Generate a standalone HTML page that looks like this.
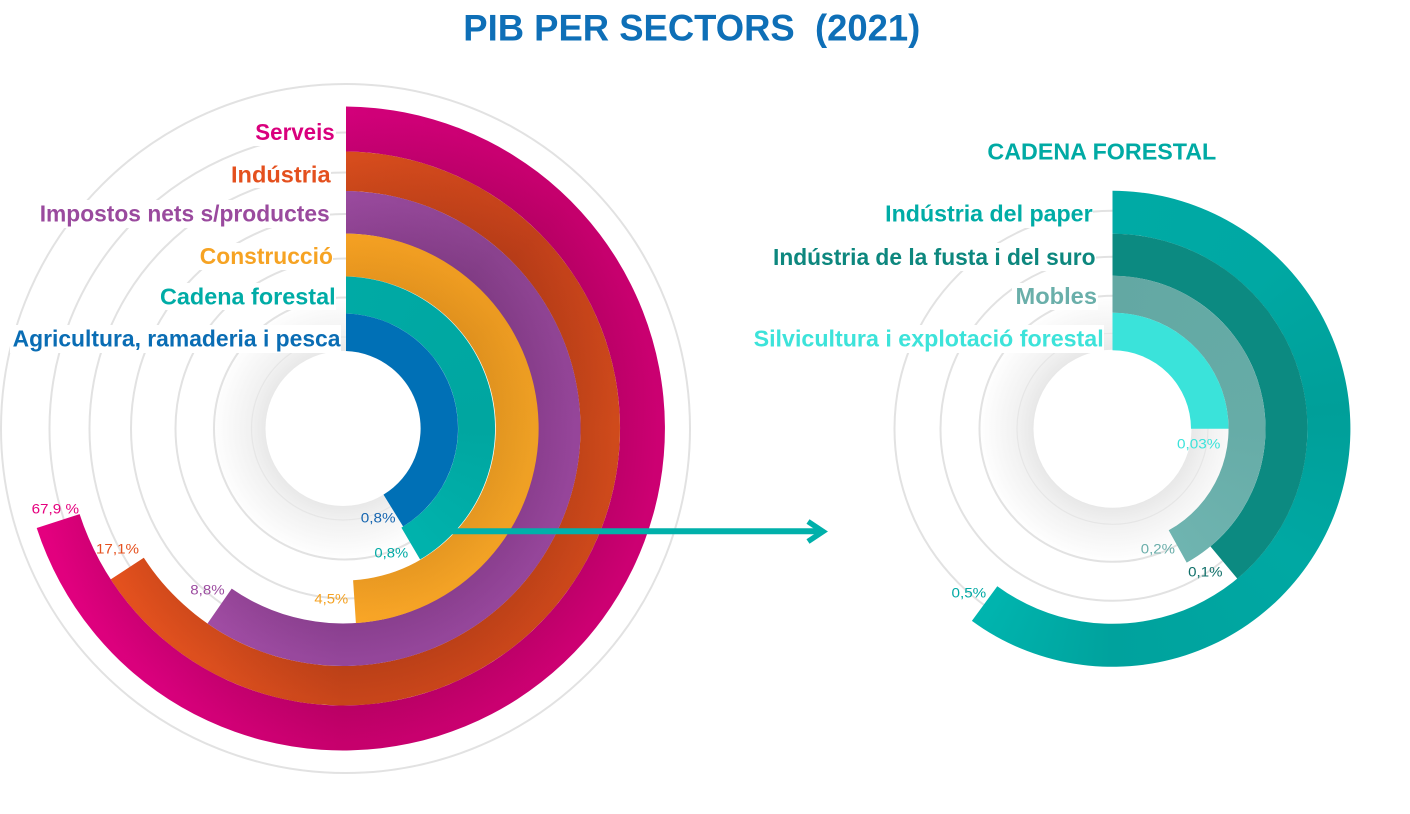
<!DOCTYPE html>
<html>
<head>
<meta charset="utf-8">
<style>
  html,body{margin:0;padding:0;background:#fff;}
  body{width:1410px;height:814px;overflow:hidden;position:relative;font-family:"Liberation Sans",sans-serif;}
  .layer{position:absolute;left:0;top:0;width:1410px;height:814px;}
  .band{position:absolute;left:0;top:0;width:1410px;height:814px;}
</style>
</head>
<body>

<!-- background: grid circles and hole shadows -->
<svg class="layer" width="1410" height="814" viewBox="0 0 1410 814">
  <defs>
    <radialGradient id="shL" gradientUnits="userSpaceOnUse" cx="343" cy="428.5" r="132">
      <stop offset="0.58" stop-color="#e8e8e8"/>
      <stop offset="0.70" stop-color="#f1f1f1"/>
      <stop offset="1" stop-color="#ffffff"/>
    </radialGradient>
    <radialGradient id="shR" gradientUnits="userSpaceOnUse" cx="1112.5" cy="428.8" r="134">
      <stop offset="0.59" stop-color="#e8e8e8"/>
      <stop offset="0.71" stop-color="#f1f1f1"/>
      <stop offset="1" stop-color="#ffffff"/>
    </radialGradient>
  </defs>
  <!-- left -->
  <circle cx="343" cy="428.5" r="132" fill="url(#shL)"/>
  <g fill="none" stroke="#e2e2e2" stroke-width="2">
    <circle cx="345.5" cy="428.5" r="344.5"/>
    <circle cx="345.5" cy="428.5" r="296"/>
    <circle cx="345.5" cy="428.5" r="256"/>
    <circle cx="345.5" cy="428.5" r="214.5"/>
    <circle cx="345.5" cy="428.5" r="170"/>
    <circle cx="345" cy="428.5" r="131"/>
  </g>
  <circle cx="343" cy="428.5" r="91.5" fill="none" stroke="#e6e6e6" stroke-width="1.2"/>
  <circle cx="343" cy="428.5" r="77.5" fill="#fff"/>
  <!-- right -->
  <circle cx="1112.5" cy="428.8" r="134" fill="url(#shR)"/>
  <g fill="none" stroke="#e2e2e2" stroke-width="2">
    <circle cx="1112.5" cy="428.8" r="218"/>
    <circle cx="1112.5" cy="428.8" r="172"/>
    <circle cx="1112.5" cy="428.8" r="133"/>
  </g>
  <circle cx="1112.5" cy="428.8" r="95.5" fill="none" stroke="#e6e6e6" stroke-width="1.2"/>
  <circle cx="1112.5" cy="428.8" r="79" fill="#fff"/>
</svg>

<!-- left bands -->
<div class="band" style="background:radial-gradient(circle at 343px 428.5px, rgba(70,0,30,0.10) 277px, rgba(70,0,30,0) 315px), conic-gradient(from 0deg at 343px 428.5px, #d2007a 0deg, #c4006c 45deg, #cc0072 90deg, #cc0072 135deg, #c6006c 180deg, #d8007c 215deg, #e4007f 252deg, #e4007f 360deg); clip-path:path('M346,106.5 A322,322 0 1 1 36.7,528 L79.6,514.1 A277,277 0 1 0 346,151.5 Z');"></div>

<div class="band" style="background:radial-gradient(circle at 343px 428.5px, rgba(80,20,0,0.10) 237.5px, rgba(80,20,0,0) 272px), conic-gradient(from 0deg at 343px 428.5px, #d84d1d 0deg, #c1401a 45deg, #cf4a1b 90deg, #c8451a 150deg, #c7451a 180deg, #dc4f1e 210deg, #e4511e 237deg, #e4511e 360deg); clip-path:path('M346,151.5 A277,277 0 1 1 110.7,579.4 L143.8,557.8 A237.5,237.5 0 1 0 346,191 Z');"></div>

<div class="band" style="background:radial-gradient(circle at 343px 428.5px, rgba(40,0,40,0.10) 195px, rgba(40,0,40,0) 232px), conic-gradient(from 0deg at 343px 428.5px, #9a4a9e 0deg, #8a428e 40deg, #96459a 90deg, #94469a 180deg, #a04ca3 215deg, #a04ca3 360deg); clip-path:path('M346,191 A237.5,237.5 0 1 1 207.5,623.5 L231.7,588.6 A195,195 0 1 0 346,233.5 Z');"></div>

<div class="band" style="background:radial-gradient(circle at 343px 428.5px, rgba(120,60,0,0.10) 152px, rgba(120,60,0,0) 190px), conic-gradient(from 0deg at 343px 428.5px, #f4a022 0deg, #eb9a21 55deg, #eea024 95deg, #f3a225 150deg, #f8a526 176deg, #f8a526 360deg); clip-path:path('M346,233.5 A195,195 0 0 1 355.9,623.1 L353.1,580.2 A152,152 0 0 0 346,276.5 Z');"></div>

<div class="band" style="background:conic-gradient(from 0deg at 343px 428.5px, #00aaa5 0deg, #00a6a0 90deg, #00b3ad 150deg, #00b3ad 360deg); clip-path:path('M346,276.5 A152,152 0 0 1 420.1,559.5 L401.4,527.6 A115,115 0 0 0 346,313.5 Z');"></div>

<div class="band" style="background:#0070b6; clip-path:path('M346,313.5 A115,115 0 0 1 403.1,526.5 L383.5,494.6 A77.5,77.5 0 0 0 346,351 Z');"></div>

<!-- right bands -->
<div class="band" style="background:conic-gradient(from 0deg at 1112.5px 428.8px, #00aaa5 0deg, #00a8a3 45deg, #009f99 85deg, #00a8a3 125deg, #00a29d 180deg, #00b5af 216deg, #00b5af 360deg); clip-path:path('M1112.5,190.8 A238,238 0 1 1 971.9,620.9 L997.3,586.2 A195,195 0 1 0 1112.5,233.8 Z');"></div>

<div class="band" style="background:#0c8a81; clip-path:path('M1112.5,233.8 A195,195 0 0 1 1237.3,578.6 L1210.4,546.4 A153,153 0 0 0 1112.5,275.8 Z');"></div>

<div class="band" style="background:conic-gradient(from 0deg at 1112.5px 428.8px, #63a8a3 0deg, #66aca7 90deg, #6fb4b0 151deg, #6fb4b0 360deg); clip-path:path('M1112.5,275.8 A153,153 0 0 1 1186.7,562.6 L1168.7,530.3 A116,116 0 0 0 1112.5,312.8 Z');"></div>

<div class="band" style="background:#3ae3da; clip-path:path('M1112.5,312.8 A116,116 0 0 1 1228.5,428.8 L1191,428.8 A78.5,78.5 0 0 0 1112.5,350.3 Z');"></div>

<!-- foreground: text, arrow -->
<svg class="layer" width="1410" height="814" viewBox="0 0 1410 814" font-family="Liberation Sans, sans-serif">
  <!-- title -->
  <text x="463.3" y="40.7" font-size="37" font-weight="bold" fill="#0e6fb7" textLength="457" lengthAdjust="spacingAndGlyphs" xml:space="preserve">PIB PER SECTORS  (2021)</text>

  <!-- left labels -->
  <g font-weight="bold" font-size="23">
    <rect x="252" y="119" width="84" height="27" fill="#fff"/>
    <text x="255.3" y="140" fill="#d9007d" textLength="79.4" lengthAdjust="spacingAndGlyphs">Serveis</text>
    <rect x="228" y="161" width="103" height="27" fill="#fff"/>
    <text x="231" y="182.3" fill="#e4501e" textLength="99.6" lengthAdjust="spacingAndGlyphs">Indústria</text>
    <rect x="37" y="200" width="293" height="28" fill="#fff"/>
    <text x="39.7" y="221.7" fill="#9a4a9e" textLength="290" lengthAdjust="spacingAndGlyphs">Impostos nets s/productes</text>
    <rect x="197" y="243" width="136" height="27" fill="#fff"/>
    <text x="199.8" y="264" fill="#f6a323" textLength="133.1" lengthAdjust="spacingAndGlyphs">Construcció</text>
    <rect x="157" y="283" width="179" height="27" fill="#fff"/>
    <text x="160" y="304.3" fill="#00aca6" textLength="175.6" lengthAdjust="spacingAndGlyphs">Cadena forestal</text>
    <rect x="10" y="325" width="331" height="28" fill="#fff"/>
    <text x="12.6" y="346.7" fill="#0a6db4" textLength="327.9" lengthAdjust="spacingAndGlyphs">Agricultura, ramaderia i pesca</text>
  </g>

  <!-- right heading & labels -->
  <text x="987.4" y="159.3" font-size="23" font-weight="bold" fill="#00aaa4" textLength="228.9" lengthAdjust="spacingAndGlyphs">CADENA FORESTAL</text>
  <g font-weight="bold" font-size="23">
    <rect x="882" y="200" width="211" height="28" fill="#fff"/>
    <text x="885.2" y="221.7" fill="#00aca6" textLength="207.4" lengthAdjust="spacingAndGlyphs">Indústria del paper</text>
    <rect x="770" y="243" width="326" height="28" fill="#fff"/>
    <text x="773" y="265" fill="#0d877e" textLength="322.5" lengthAdjust="spacingAndGlyphs">Indústria de la fusta i del suro</text>
    <rect x="1012" y="283" width="86" height="27" fill="#fff"/>
    <text x="1015.5" y="304" fill="#6aafaa" textLength="81.5" lengthAdjust="spacingAndGlyphs">Mobles</text>
    <rect x="751" y="325" width="353" height="28" fill="#fff"/>
    <text x="753.6" y="346.7" fill="#3de3da" textLength="350.1" lengthAdjust="spacingAndGlyphs">Silvicultura i explotació forestal</text>
  </g>

  <!-- percentages -->
  <g font-size="14">
    <text x="31.6" y="513.3" fill="#e5007e" textLength="47.4" lengthAdjust="spacingAndGlyphs" xml:space="preserve">67,9 %</text>
    <text x="96" y="553.3" fill="#e5501e" textLength="43" lengthAdjust="spacingAndGlyphs">17,1%</text>
    <text x="190.3" y="594.3" fill="#9c4ca0" textLength="34.3" lengthAdjust="spacingAndGlyphs">8,8%</text>
    <text x="314.4" y="603.3" fill="#f5a324" textLength="33.8" lengthAdjust="spacingAndGlyphs">4,5%</text>
    <text x="360.8" y="522.7" fill="#1565b0" textLength="34.8" lengthAdjust="spacingAndGlyphs">0,8%</text>
    <text x="374.4" y="557.7" fill="#00aaa5" textLength="33.8" lengthAdjust="spacingAndGlyphs">0,8%</text>
    <text x="1177" y="448.3" fill="#3ce3da" textLength="43.4" lengthAdjust="spacingAndGlyphs">0,03%</text>
    <text x="1140.8" y="553.3" fill="#6aaeaa" textLength="34.2" lengthAdjust="spacingAndGlyphs">0,2%</text>
    <text x="1188.2" y="576.7" fill="#0e6e68" textLength="34.3" lengthAdjust="spacingAndGlyphs">0,1%</text>
    <text x="951.5" y="597.3" fill="#00a9a4" textLength="34.7" lengthAdjust="spacingAndGlyphs">0,5%</text>
  </g>

  <!-- arrow -->
  <line x1="440" y1="531.3" x2="820" y2="531.3" stroke="#00b0aa" stroke-width="6"/>
  <polyline points="808,521.5 823,531.5 808,541.5" fill="none" stroke="#00b0aa" stroke-width="5.5" stroke-linejoin="miter"/>
</svg>

</body>
</html>
